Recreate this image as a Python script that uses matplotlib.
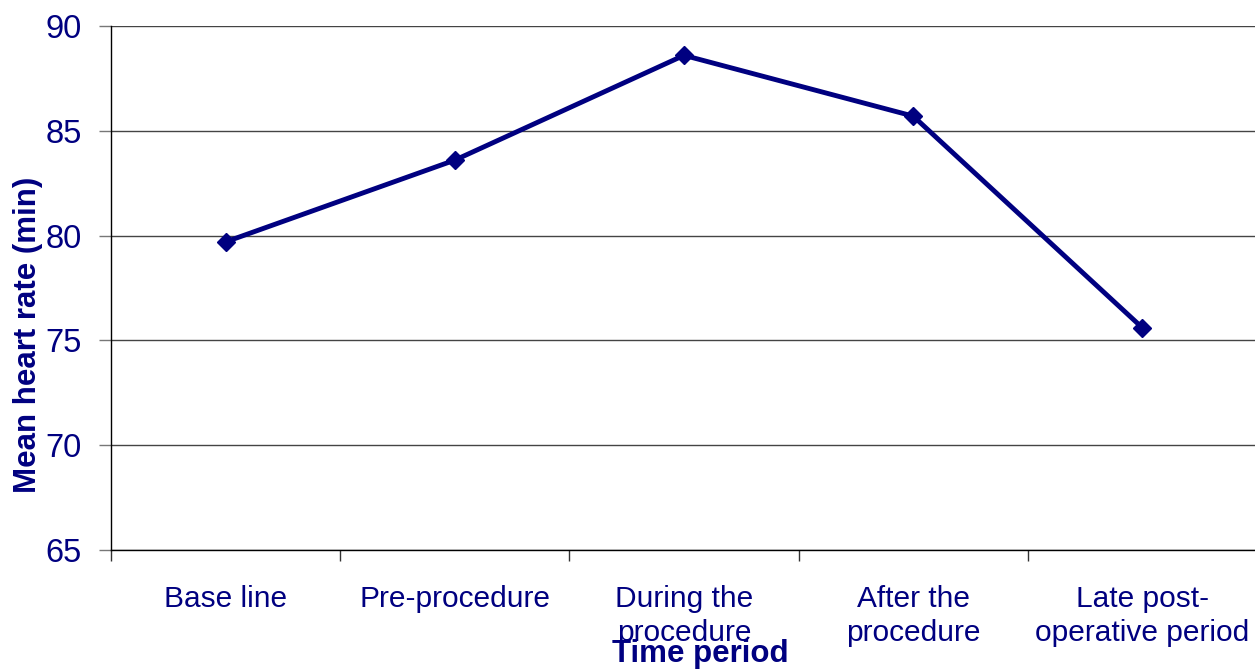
import matplotlib
matplotlib.use("Agg")
import matplotlib.pyplot as plt
import numpy as np

NAVY = "#000080"

plt.rcParams['font.family'] = ['Liberation Sans', 'DejaVu Sans']

periods = ["Base line", "Pre-procedure", "During the\nprocedure",
           "After the\nprocedure", "Late post-\noperative period"]
heart_rate = [79.7, 83.6, 88.6, 85.7, 75.6]
y_ticks = [65, 70, 75, 80, 85, 90]

fig = plt.figure(figsize=(12.55, 6.69), dpi=100)
ax = fig.add_axes([111 / 1255, 119 / 669, 1146 / 1255, 524 / 669])

x = np.arange(len(periods))
ax.plot(x, heart_rate, color=NAVY, linewidth=3.5, marker="D",
        markersize=9, markeredgewidth=1, markeredgecolor=NAVY,
        markerfacecolor=NAVY, zorder=3)

ax.set_xlim(-0.5, len(periods) - 0.5)
ax.set_ylim(65, 90)

# horizontal gridlines only
ax.set_yticks(y_ticks)
ax.yaxis.grid(True, color="#444444", linewidth=1)
ax.set_axisbelow(True)

# category labels at the centres, tick marks between categories
ax.set_xticks(x)
ax.set_xticklabels(periods, fontsize=21.5, color=NAVY, linespacing=1.3)
ax.set_xticks(np.arange(-0.5, len(periods)), minor=True)
ax.tick_params(axis="x", which="major", length=0, pad=25)
ax.tick_params(axis="x", which="minor", length=8, width=1, color="#333333",
               direction="out")
ax.tick_params(axis="y", length=9, width=1, color="#777777", pad=12,
               labelsize=23.5, labelcolor=NAVY)

for side in ["top", "right"]:
    ax.spines[side].set_visible(False)
for side in ["left", "bottom"]:
    ax.spines[side].set_color("black")
    ax.spines[side].set_linewidth(1)

fig.text(700 / 1255, 1 - 654 / 669, "Time period", ha="center", va="center",
         fontsize=22.5, fontweight="bold", color=NAVY)
fig.text(28 / 1255, 1 - 335 / 669, "Mean heart rate (min)", ha="center",
         va="center", rotation=90, fontsize=22.5, fontweight="bold",
         color=NAVY)

fig.savefig("out.png", dpi=100)
